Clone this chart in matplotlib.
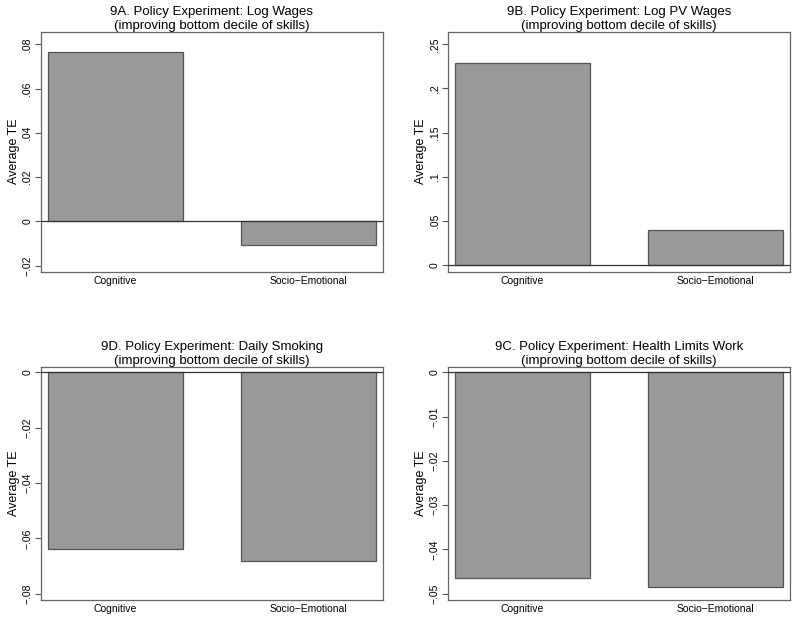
# Policy experiment bar charts: average treatment effects by skill type
import matplotlib.pyplot as plt

plt.rcParams['font.family'] = ['Liberation Sans', 'DejaVu Sans']

categories = ['Cognitive', 'Socio\u2212Emotional']

titles = [
    '9A. Policy Experiment: Log Wages',
    '9B. Policy Experiment: Log PV Wages',
    '9D. Policy Experiment: Daily Smoking',
    '9C. Policy Experiment: Health Limits Work',
]
subtitle = '(improving bottom decile of skills)'

log_wages = [0.0764, -0.0105]
log_pv_wages = [0.2287, 0.0397]
daily_smoking = [-0.0639, -0.0680]
health_limits = [-0.0464, -0.0484]

ticks_a = [-0.02, 0, 0.02, 0.04, 0.06, 0.08]
ticks_b = [0, 0.05, 0.1, 0.15, 0.2, 0.25]
ticks_d = [-0.08, -0.06, -0.04, -0.02, 0]
ticks_c = [-0.05, -0.04, -0.03, -0.02, -0.01, 0]

ylims = [(-0.0227, 0.0857), (-0.0076, 0.2643), (-0.0822, 0.002), (-0.0514, 0.0013)]


def stata_label(v):
    """Format tick like Stata: .08, -.02, 0"""
    if abs(v) < 1e-12:
        return '0'
    s = ('%.2f' % v).rstrip('0').rstrip('.')
    s = s.replace('0.', '.')
    return s.replace('-', '\u2212')


fig = plt.figure(figsize=(8, 6.21), dpi=100)
positions = [
    [0.051, 0.5625, 0.428, 0.3865],
    [0.560, 0.5625, 0.4275, 0.3865],
    [0.051, 0.034, 0.428, 0.3757],
    [0.560, 0.034, 0.4275, 0.3757],
]
series = [log_wages, log_pv_wages, daily_smoking, health_limits]
tick_sets = [ticks_a, ticks_b, ticks_d, ticks_c]

for pos, vals, ticks, title, ylim in zip(positions, series, tick_sets, titles, ylims):
    ax = fig.add_axes(pos)
    ax.bar([0, 1], vals, width=0.70, color='#999999', edgecolor='#555555', linewidth=0.9, zorder=2)
    ax.axhline(0, color='#333333', linewidth=0.9, zorder=3)
    ax.set_xlim(-0.386, 1.386)
    ax.set_ylim(*ylim)
    ax.set_xticks([0, 1])
    ax.set_xticklabels(categories, fontsize=7.5)
    ax.tick_params(axis='x', length=0, pad=3)
    ax.set_yticks(ticks)
    ax.set_yticklabels([stata_label(t) for t in ticks], rotation=90, va='center', fontsize=7.5)
    ax.tick_params(axis='y', length=4, width=0.8, color='#555555', pad=2)
    ax.set_ylabel('Average TE', fontsize=9, labelpad=2)
    ax.set_title(title + '\n' + subtitle, fontsize=9.5, linespacing=1.15, pad=0)
    for sp in ax.spines.values():
        sp.set_color('#666666')
        sp.set_linewidth(0.9)

fig.savefig('out.png', dpi=100)
